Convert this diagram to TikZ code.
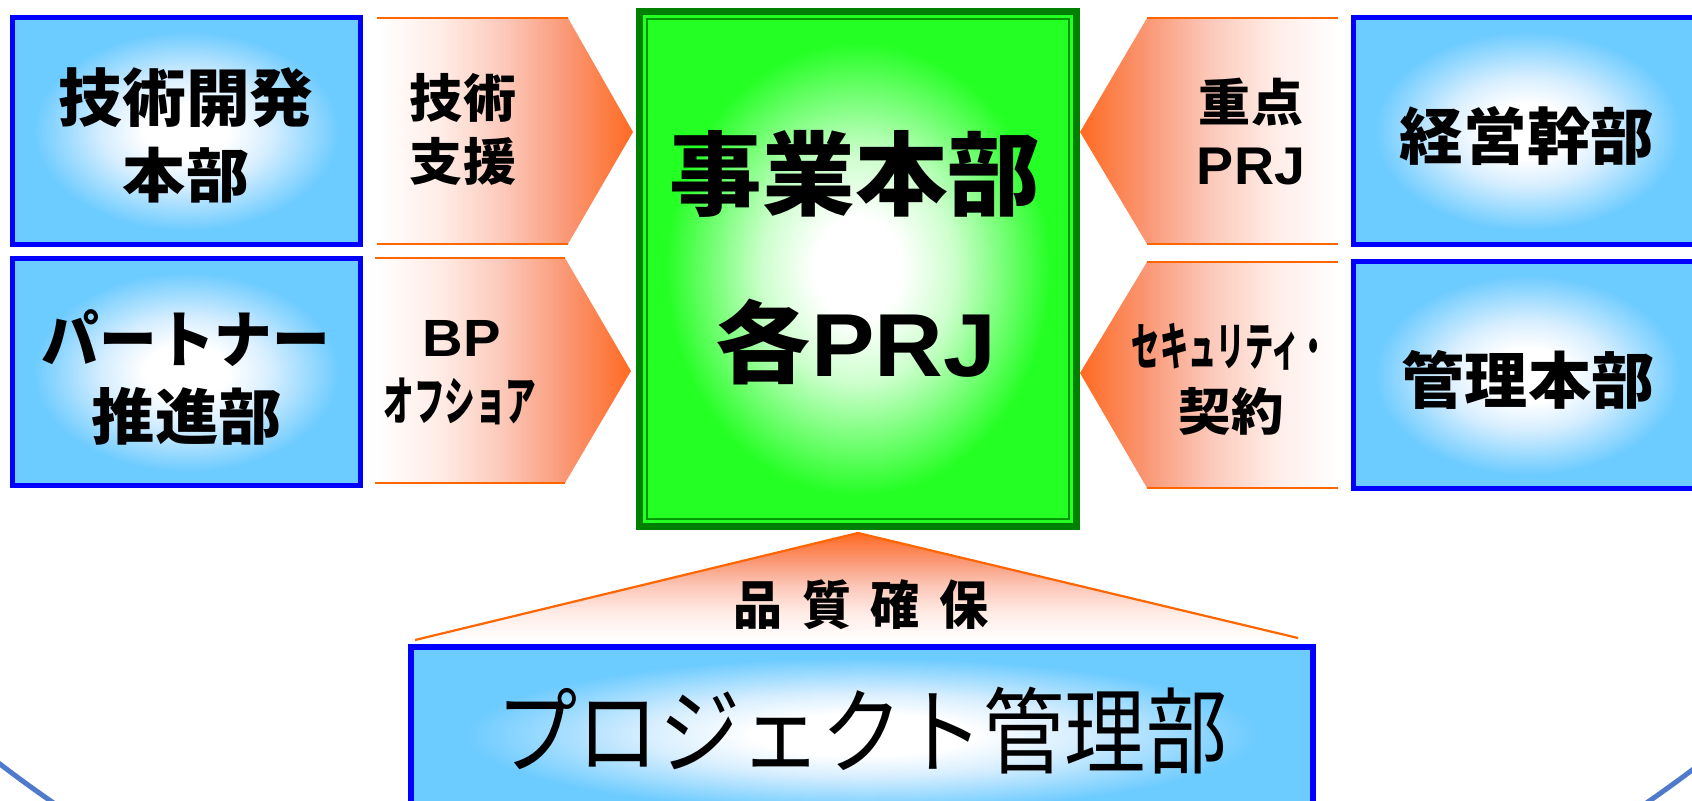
\documentclass[tikz,border=0pt]{standalone}
\usepackage{fontspec}
\usepackage{graphicx}
\newfontfamily\jp{Noto Sans CJK JP}
\newfontfamily\lat{Liberation Sans}
\definecolor{skyb}{RGB}{108,203,255}
\definecolor{skyl}{RGB}{215,238,255}
\definecolor{boxblue}{RGB}{0,0,255}
\definecolor{grn}{RGB}{36,255,36}
\definecolor{grl}{RGB}{205,255,205}
\definecolor{dgrn}{RGB}{0,128,0}
\definecolor{tgrn}{RGB}{0,150,0}
\definecolor{orng}{RGB}{255,106,33}
\definecolor{oline}{RGB}{255,102,0}
\definecolor{oA}{RGB}{255,236,230}
\definecolor{oB}{RGB}{252,200,185}
\definecolor{oC}{RGB}{250,150,115}
\definecolor{arcblue}{RGB}{79,122,204}
\pgfdeclareradialshading{blueshade}{\pgfpointorigin}{color(0bp)=(white); color(6bp)=(white); color(12bp)=(skyl); color(22bp)=(skyb); color(50bp)=(skyb)}
\pgfdeclareradialshading{greenshade}{\pgfpointorigin}{color(0bp)=(white); color(5bp)=(white); color(11bp)=(grl); color(22bp)=(grn); color(50bp)=(grn)}
\pgfdeclarehorizontalshading{toRight}{100bp}{color(0bp)=(white); color(25bp)=(white); color(37.5bp)=(oA); color(50bp)=(oB); color(62.5bp)=(oC); color(75bp)=(orng); color(100bp)=(orng)}
\pgfdeclarehorizontalshading{toLeft}{100bp}{color(0bp)=(orng); color(25bp)=(orng); color(37.5bp)=(oC); color(50bp)=(oB); color(62.5bp)=(oA); color(75bp)=(white); color(100bp)=(white)}
\pgfdeclareverticalshading{toTop}{100bp}{color(0bp)=(white); color(25bp)=(white); color(37.5bp)=(oA); color(50bp)=(oB); color(62.5bp)=(oC); color(75bp)=(orng); color(100bp)=(orng)}
\newcommand\myfit[3]{\resizebox*{#1}{#2}{\jp\bfseries #3}}
\begin{document}
\begin{tikzpicture}[x=0.01cm,y=-0.01cm,
  txt/.style={inner sep=0pt, outer sep=0pt},
  bluebox/.style={draw=boxblue, line width=0.05cm, shading=blueshade, inner sep=0pt, outer sep=0pt, minimum width=3.48cm, minimum height=2.27cm},
  greenbox/.style={draw=dgrn, line width=0.07cm, shading=greenshade, inner sep=0pt, outer sep=0pt},
  oedge/.style={draw=oline, line width=0.022cm}]
\useasboundingbox (0,0) rectangle (1692,800);
\clip (0,0) rectangle (1692,800);
% big arc
\draw[arcblue, line width=0.05cm] (850,-352) circle[radius=14.02cm];
% blue boxes
\node[bluebox] (gk) at (186.5,131) {};
\node[bluebox] (pt) at (186.5,372) {};
\node[bluebox] (kk) at (1527.5,131) {};
\node[bluebox] (kr) at (1527.5,375) {};
\node[bluebox, line width=0.06cm, minimum width=9.02cm, minimum height=1.75cm] (pm) at (862,734.5) {};
% green box
\node[greenbox, minimum width=4.37cm, minimum height=5.15cm] (jg) at (858,269) {};
\draw[tgrn, line width=0.02cm] ([shift={(7.5,7.5)}]jg.north west) rectangle ([shift={(-7.5,-7.5)}]jg.south east);
% left arrows
\path[shading=toRight] (377,18) -- (568,18) -- (633,132) -- (568,244) -- (377,244) -- cycle;
\draw[oedge] (377,18) -- (568,18) (377,244) -- (568,244);
\path[shading=toRight] (375,258) -- (565,258) -- (631,371) -- (565,483) -- (375,483) -- cycle;
\draw[oedge] (375,258) -- (565,258) (375,483) -- (565,483);
% right arrows
\path[shading=toLeft] (1338,18) -- (1147,18) -- (1080,132) -- (1147,244) -- (1338,244) -- cycle;
\draw[oedge] (1338,18) -- (1147,18) (1338,244) -- (1147,244);
\path[shading=toLeft] (1338,262) -- (1147,262) -- (1080,373) -- (1147,488) -- (1338,488) -- cycle;
\draw[oedge] (1338,262) -- (1147,262) (1338,488) -- (1147,488);
% triangle
\path[shading=toTop] (415,640) -- (858,533) -- (1298,638) -- cycle;
\draw[oedge] (415,640) -- (858,533) -- (1298,638);
% texts
\node[txt] (t1) at (186,98) {\myfit{2.55cm}{0.60cm}{技術開発}};
\node[txt] (t2) at (186,175) {\myfit{1.26cm}{0.56cm}{本部}};
\node[txt] (t3) at (186,338) {\myfit{2.88cm}{0.57cm}{パートナー}};
\node[txt] (t4) at (187,416) {\myfit{1.90cm}{0.58cm}{推進部}};
\node[txt] (t5) at (463,98) {\myfit{1.06cm}{0.49cm}{技術}};
\node[txt] (t6) at (463,161) {\myfit{1.06cm}{0.48cm}{支援}};
\node[txt] (t7) at (462,338) {\resizebox*{0.78cm}{0.36cm}{\lat\bfseries BP}};
\node[txt] (t8) at (460,401) {\myfit{1.53cm}{0.47cm}{オフショア}};
\node[txt] (t9) at (1251,102) {\myfit{1.04cm}{0.48cm}{重点}};
\node[txt] (t10) at (1251,167) {\resizebox*{1.08cm}{0.37cm}{\lat\bfseries PRJ}};
\node[txt] (t11) at (1230,347) {\myfit{1.96cm}{0.47cm}{セキュリティ・}};
\node[txt] (t12) at (1231,411) {\myfit{1.05cm}{0.48cm}{契約}};
\node[txt] (t13) at (1527,136) {\myfit{2.54cm}{0.59cm}{経営幹部}};
\node[txt] (t14) at (1528,380) {\myfit{2.52cm}{0.59cm}{管理本部}};
\node[txt] (t15) at (855,174) {\myfit{3.70cm}{0.87cm}{事業本部}};
\node[txt] (t16) at (856,342) {\resizebox*{2.80cm}{0.86cm}{{\jp\bfseries 各}{\lat\bfseries PRJ}}};
\node[txt] (t17) at (861,605) {\myfit{2.55cm}{0.50cm}{品\hspace{0.4em}質\hspace{0.4em}確\hspace{0.4em}保}};
\node[txt] (t18) at (862,731) {\resizebox*{7.30cm}{0.87cm}{\jp プロジェクト管理部}};
\end{tikzpicture}
\end{document}
